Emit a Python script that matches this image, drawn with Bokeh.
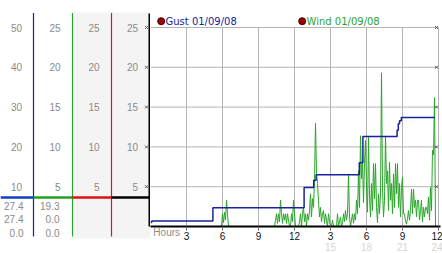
from bokeh.plotting import figure
from bokeh.models import Range1d, LinearAxis, FixedTicker
from bokeh.layouts import row
from bokeh.embed import file_html
from bokeh.resources import INLINE
from bokeh.core.properties import value

# ---------------- data ----------------
SAMPLE_MIN = 5  # wind sampled every 5 minutes
wind_mph = [
    # 00h
    0, 0, 0, 0, 0, 0, 0, 0, 0, 0, 0, 0,
    # 01h
    0, 0, 0, 0, 0, 0, 0, 0, 0, 0, 0, 0,
    # 02h
    0, 0, 0, 0, 0, 0, 0, 0, 0, 0, 0, 0,
    # 03h
    0, 0, 0, 0, 0, 0, 0, 0, 0, 0, 0, 0,
    # 04h
    0, 0, 0, 0, 0, 0, 0, 0, 0, 0, 0, 0,
    # 05h
    0, 0, 0, 0, 0, 0, 0, 0, 0, 0, 0, 0,
    # 06h
    1.6, 0.5, 1.8, 0.8, 3.3, 1.6, 0, 0, 0, 0, 0, 0,
    # 07h
    0, 0, 0, 0, 0, 0, 0, 0, 0, 0, 0, 0,
    # 08h
    0, 0, 0, 0, 0, 0, 0, 0, 0, 0, 0, 0,
    # 09h
    0, 0, 0, 0, 0, 0, 0, 0, 0, 0, 0, 0,
    # 10h
    0, 0, 0, 0, 0, 0.8, 1.6, 0.4, 1.6, 0.6, 3.3, 1.6,
    # 11h
    0.4, 1.6, 0.8, 1.6, 0.4, 1.6, 0.8, 0, 0, 1.6, 0.6, 3.3,
    # 12h
    1.6, 0, 0, 0, 0, 0.6, 1.6, 0, 1.6, 2.4, 0.6, 1.6,
    # 13h
    0, 1.6, 0.8, 2.0, 4.1, 1.2, 3.5, 2.4, 6.0, 13.0, 6.7, 5.4,
    # 14h
    3.3, 1.2, 2.4, 0.6, 1.6, 2.0, 0.4, 1.6, 0.8, 0, 1.6, 0.6,
    # 15h
    0, 0, 0.8, 0, 0, 0, 0, 1.6, 0, 0.6, 1.2, 0,
    # 16h
    0.4, 1.6, 0.6, 2.0, 0.8, 1.6, 6.6, 1.2, 0, 0.8, 1.6, 0.4,
    # 17h
    1.6, 0.8, 3.3, 1.6, 7.0, 2.4, 11.4, 6.0, 8.3, 3.0, 8.0, 10.8,
    # 18h
    4.9, 1.8, 11.2, 3.7, 1.2, 5.4, 2.0, 7.9, 3.5, 7.9, 2.4, 0.5,
    # 19h
    4.1, 1.6, 4.1, 19.3, 4.9, 1.2, 3.3, 11.3, 5.4, 7.0, 2.0, 8.1,
    # 20h
    3.3, 5.4, 1.6, 6.6, 2.4, 7.9, 4.1, 7.9, 2.4, 5.4, 1.2, 4.9,
    # 21h
    6.2, 1.6, 1.6, 0.6, 0.3, 1.0, 2.0, 0.8, 2.0, 4.7, 1.6, 4.7,
    # 22h
    2.4, 3.3, 1.2, 3.3, 3.3, 0.8, 2.0, 3.3, 0.6, 2.4, 1.2, 2.4,
    # 23h
    2.4, 1.6, 3.7, 0.8, 4.9, 2.0, 9.6, 9.0, 16.2, 0, 0, 0,
]
wind_hours = [i * SAMPLE_MIN / 60 for i in range(len(wind_mph))]

gust_hours = [0.0, 0.1, 5.2, 12.8, 13.6, 13.8, 17.4, 17.7, 20.55, 20.65, 20.75, 20.9, 23.7]
gust_mph = [1.0, 1.4, 4.7, 9.8, 11.6, 13.0, 16.0, 22.6, 24.2, 25.8, 26.6, 27.4, 27.4]

wind_ticks = [5, 10, 15, 20, 25]
gust_ticks = [10, 20, 30, 40, 50]
x_ticks = [3, 6, 9, 12, 15, 18, 21, 24]
x_tick_labels = ["3", "6", "9", "12", "3", "6", "9", "12"]
x_ticks_24h = [15, 18, 21, 24]
x_title = "Hours"
readout_gust = ["27.4", "27.4", "0.0"]
readout_wind = ["19.3", "0.0", "0.0"]
legend_labels = ["Gust 01/09/08", "Wind 01/09/08"]

# ---------------- layout constants ----------------
H = 253
LEFT_W = 150
MAIN_W = 292
FRAME_TOP = 13    # main frame top (px)
GRID_TOP = 27     # px row of the 25 gridline
BOTTOM = 226      # frame bottom (px)
WIND_MAX = 25
GUST_MAX = 50
HOURS = 24
ppu = (BOTTOM - GRID_TOP) / WIND_MAX
PX_PER_H = 12
FONT = "Liberation Sans"
GRAY = "#8a8a8a"
BLUE = "#16239c"
GREEN = "#2aa52a"
RED = "#c82020"
GRID = "#b4b4b4"


def y_of(py):
    """pixel row -> wind units"""
    return (BOTTOM - py) / ppu


# ---------------- main plot ----------------
p = figure(width=MAIN_W, height=H,
           x_range=Range1d(0, (MAIN_W - 2) / PX_PER_H), y_range=Range1d(0, y_of(FRAME_TOP)),
           output_backend="svg", toolbar_location=None, y_axis_location=None,
           min_border_left=0, min_border_right=2, min_border_top=FRAME_TOP,
           min_border_bottom=H - BOTTOM, frame_align=False,
           outline_line_color=None, background_fill_color="white", border_fill_color="white")
p.extra_y_ranges = {"gust": Range1d(0, y_of(FRAME_TOP) * GUST_MAX / WIND_MAX)}
p.xgrid.visible = False
p.ygrid.visible = False

# grid (bounded to 0..24 h and 0..25)
p.segment(x0=x_ticks, x1=x_ticks, y0=[0] * len(x_ticks), y1=[WIND_MAX] * len(x_ticks),
          line_color=GRID, line_width=1)
p.segment(x0=[0] * len(wind_ticks), x1=[HOURS] * len(wind_ticks), y0=wind_ticks, y1=wind_ticks,
          line_color=GRID, line_width=1)

# axis A: baseline, tick marks, "Hours"
axA = p.xaxis[0]
axA.ticker = FixedTicker(ticks=[1.35], minor_ticks=x_ticks)
axA.major_label_overrides = {1.35: x_title}
axA.major_label_text_font = FONT
axA.major_label_text_font_size = "10px"
axA.major_label_text_color = GRAY
axA.axis_line_color = "black"
axA.axis_line_width = 2
axA.major_tick_in = 0
axA.major_tick_out = 4
axA.major_tick_line_color = None
axA.minor_tick_in = 0
axA.minor_tick_out = 4
axA.minor_tick_line_color = "#666666"
axA.major_label_standoff = -4

# axis B: 12-hour labels
axB = LinearAxis(ticker=FixedTicker(ticks=x_ticks),
                 major_label_overrides={t: l for t, l in zip(x_ticks, x_tick_labels)},
                 axis_line_color=None, major_tick_line_color=None, minor_tick_line_color=None,
                 major_tick_in=0, major_tick_out=0, minor_tick_in=0, minor_tick_out=0,
                 major_label_text_font=FONT, major_label_text_font_size="10px",
                 major_label_text_color="#111111", major_label_standoff=-9)
p.add_layout(axB, "below")

# axis C: faint 24-hour labels
axC = LinearAxis(ticker=FixedTicker(ticks=x_ticks_24h), axis_line_color=None,
                 major_tick_line_color=None, minor_tick_line_color=None,
                 major_tick_in=0, major_tick_out=0, minor_tick_in=0, minor_tick_out=0,
                 major_label_text_font=FONT, major_label_text_font_size="10px",
                 major_label_text_color="#d6d6d6", major_label_standoff=0)
p.add_layout(axC, "below")

p.line(wind_hours, wind_mph, line_color=GREEN, line_width=1)
p.step(gust_hours, gust_mph, mode="after", y_range_name="gust", line_color=BLUE, line_width=1.5)

# right-edge tick marks
p.scatter(x=[23.83] * len(wind_ticks), y=wind_ticks, marker="x", size=4, line_color="#555555")

# legend row
ly = y_of(20.7)
p.scatter(x=[0.89, 12.64], y=[ly, ly], marker="circle", size=7,
          fill_color="#a00000", line_color="#3a0000", line_width=1)
p.text(x=[1.25, 13.0], y=[ly, ly], text=legend_labels, text_color=[BLUE, GREEN],
       text_align="left", text_baseline="middle", text_font=value("DejaVu Sans"),
       text_font_size="10px")

# ---------------- left scale panel ----------------
lp = figure(width=LEFT_W, height=H, x_range=Range1d(0, LEFT_W),
            y_range=Range1d(y_of(H), y_of(0)),
            output_backend="svg", toolbar_location=None, min_border=0, frame_align=False,
            x_axis_location=None, y_axis_location=None, outline_line_color=None,
            background_fill_color="white", border_fill_color="white")
lp.extra_y_ranges = {"gust": Range1d(y_of(H) * GUST_MAX / WIND_MAX, y_of(0) * GUST_MAX / WIND_MAX)}
lp.xgrid.visible = False
lp.ygrid.visible = False

lp.quad(left=72, right=LEFT_W, bottom=y_of(238), top=y_of(12), fill_color="#f4f4f4", line_color=None)

lp.segment(x0=[33, 72, 111], x1=[33, 72, 111], y0=[y_of(236)] * 3, y1=[y_of(12.5)] * 3,
           line_color=[BLUE, GREEN, RED], line_width=1.2)
lp.segment(x0=[149], x1=[149], y0=[y_of(BOTTOM)], y1=[y_of(13)], line_color="black", line_width=2)
lp.segment(x0=[0, 33, 72, 111], x1=[33, 72, 111, LEFT_W], y0=[y_of(197)] * 4, y1=[y_of(197)] * 4,
           line_color=["#1040c0", "#20a020", "#e01010", "black"], line_width=2.5)

tick_text = dict(text_align="right", text_baseline="middle", text_color=GRAY,
                 text_font=value(FONT), text_font_size="10px")
lp.text(x=[21.5] * len(gust_ticks), y=gust_ticks, text=[str(t) for t in gust_ticks],
        y_range_name="gust", **tick_text)
for cx in (60, 99, 137.5):
    lp.text(x=[cx] * len(wind_ticks), y=wind_ticks, text=[str(t) for t in wind_ticks], **tick_text)
lp.scatter(x=[146] * len(wind_ticks), y=wind_ticks, marker="x", size=4, line_color="#555555")

rows_py = [205, 218.5, 232]
lp.text(x=[23] * 3, y=[y_of(r) for r in rows_py], text=readout_gust, **tick_text)
lp.text(x=[59] * 3, y=[y_of(r) for r in rows_py], text=readout_wind, **tick_text)

layout = row(lp, p, spacing=0)
open("out.html", "w").write(file_html(layout, INLINE))
